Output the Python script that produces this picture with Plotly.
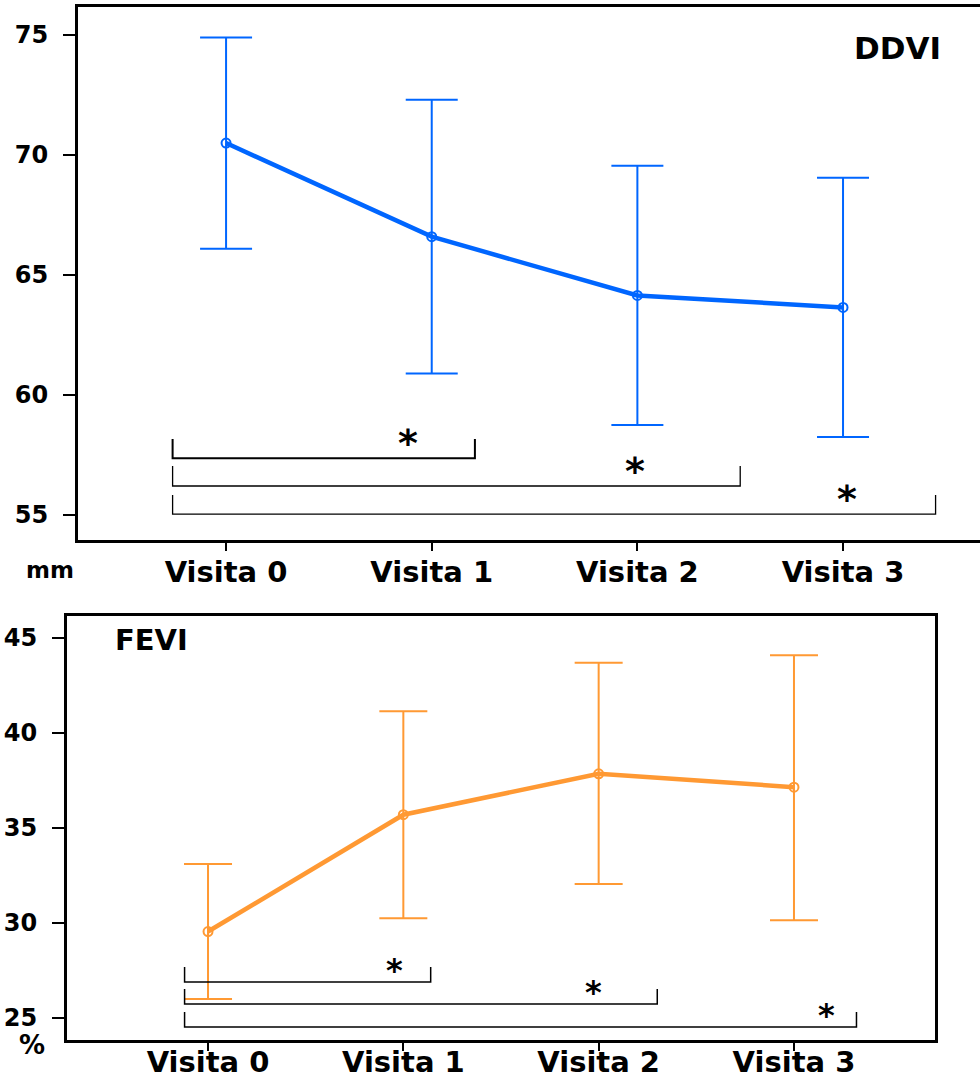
import plotly.graph_objects as go

visits = ["Visita 0", "Visita 1", "Visita 2", "Visita 3"]

ddvi_mean = [70.5, 66.6, 64.15, 63.65]
ddvi_upper = [74.9, 72.3, 69.55, 69.05]
ddvi_lower = [66.1, 60.9, 58.75, 58.25]

fevi_mean = [29.55, 35.7, 37.85, 37.15]
fevi_upper = [33.1, 41.15, 43.7, 44.1]
fevi_lower = [26.0, 30.25, 32.05, 30.15]

ddvi_ticks = [55, 60, 65, 70, 75]
fevi_ticks = [25, 30, 35, 40, 45]

# significance brackets: (x start, x end, y of bar, y of bracket top, star x, star y)
ddvi_brackets = [(-0.26, 1.21, 57.37, 58.17, 0.885, 58.0),
                 (-0.26, 2.50, 56.21, 57.04, 1.99, 56.83),
                 (-0.26, 3.45, 55.04, 55.83, 3.02, 55.67)]
fevi_brackets = [(-0.12, 1.14, 26.89, 27.68, 0.957, 27.5),
                 (-0.12, 2.30, 25.74, 26.53, 1.976, 26.35),
                 (-0.12, 3.32, 24.53, 25.32, 3.164, 25.15)]

BLUE = "#0066FF"
ORANGE = "#FF9933"
FONT = "DejaVu Sans"

xs = list(range(len(visits)))

fig = go.Figure()

fig.add_trace(go.Scatter(
    x=xs, y=ddvi_mean, mode="lines+markers", xaxis="x", yaxis="y",
    line=dict(color=BLUE, width=4.5),
    marker=dict(symbol="circle-open", size=9, color=BLUE, line=dict(width=2)),
    error_y=dict(type="data", symmetric=False,
                 array=[u - m for u, m in zip(ddvi_upper, ddvi_mean)],
                 arrayminus=[m - l for m, l in zip(ddvi_mean, ddvi_lower)],
                 color=BLUE, thickness=2, width=26),
    showlegend=False, hoverinfo="skip"))

fig.add_trace(go.Scatter(
    x=xs, y=fevi_mean, mode="lines+markers", xaxis="x2", yaxis="y2",
    line=dict(color=ORANGE, width=4.5),
    marker=dict(symbol="circle-open", size=9, color=ORANGE, line=dict(width=2)),
    error_y=dict(type="data", symmetric=False,
                 array=[u - m for u, m in zip(fevi_upper, fevi_mean)],
                 arrayminus=[m - l for m, l in zip(fevi_mean, fevi_lower)],
                 color=ORANGE, thickness=2, width=24),
    showlegend=False, hoverinfo="skip"))

shapes = []
annotations = []
for i, (x0, x1, yb, yt, sx, sy) in enumerate(ddvi_brackets):
    w = 2 if i == 0 else 1.3
    shapes.append(dict(type="path", xref="x", yref="y",
                       path=f"M {x0},{yt} L {x0},{yb} L {x1},{yb} L {x1},{yt}",
                       line=dict(color="black", width=w)))
    annotations.append(dict(x=sx, y=sy, xref="x", yref="y", text="<b>*</b>",
                            showarrow=False, font=dict(family=FONT, size=38, color="black")))
for i, (x0, x1, yb, yt, sx, sy) in enumerate(fevi_brackets):
    shapes.append(dict(type="path", xref="x2", yref="y2",
                       path=f"M {x0},{yt} L {x0},{yb} L {x1},{yb} L {x1},{yt}",
                       line=dict(color="black", width=1.5)))
    annotations.append(dict(x=sx, y=sy, xref="x2", yref="y2", text="<b>*</b>",
                            showarrow=False, font=dict(family=FONT, size=32, color="black")))

W, H = 980, 1079
labels = [
    dict(x=897, y=48, text="DDVI", size=31),
    dict(x=151, y=640, text="FEVI", size=29),
    dict(x=50, y=570, text="mm", size=23),
    dict(x=32, y=1045, text="%", size=26),
]
for lb in labels:
    annotations.append(dict(x=lb["x"] / W, y=1 - lb["y"] / H, xref="paper", yref="paper",
                            xanchor="center", yanchor="middle", text=lb["text"],
                            showarrow=False,
                            font=dict(family=FONT, size=lb["size"], color="black",
                                      weight="bold")))

tickfont_x = dict(family=FONT, size=29, color="black", weight="bold")
tickfont_y = dict(family=FONT, size=24, color="black", weight="bold")

common_x = dict(tickvals=xs, ticktext=visits, tickfont=tickfont_x,
                showline=True, linecolor="black", linewidth=3, mirror=True,
                ticks="outside", ticklen=8, tickwidth=2, tickcolor="black",
                showgrid=False, zeroline=False, fixedrange=True, automargin=False)
common_y = dict(tickfont=tickfont_y, showline=True, linecolor="black", linewidth=3,
                ticks="outside", ticklen=12, tickwidth=2, tickcolor="black",
                ticklabelstandoff=10,
                showgrid=False, zeroline=False, fixedrange=True, automargin=False)

fig.update_layout(
    width=W, height=H, margin=dict(l=0, r=0, t=0, b=0, autoexpand=False),
    paper_bgcolor="white", plot_bgcolor="white",
    shapes=shapes, annotations=annotations,
    xaxis=dict(domain=[78 / W, 1.0], range=[-0.72, 3.666], anchor="y",
               ticklabelstandoff=-4, **common_x),
    yaxis=dict(domain=[1 - 540 / H, 1 - 7 / H], range=[53.96, 76.17], anchor="x",
               tickvals=ddvi_ticks, **common_y),
    xaxis2=dict(domain=[67 / W, 935 / W], range=[-0.722, 3.722], anchor="y2",
                ticklabelstandoff=-14, **common_x),
    yaxis2=dict(domain=[1 - 1040 / H, 1 - 616 / H], range=[23.84, 46.16], anchor="x2",
                tickvals=fevi_ticks, mirror=True, **common_y),
)

fig.write_html("out.html", config={"displayModeBar": False})
